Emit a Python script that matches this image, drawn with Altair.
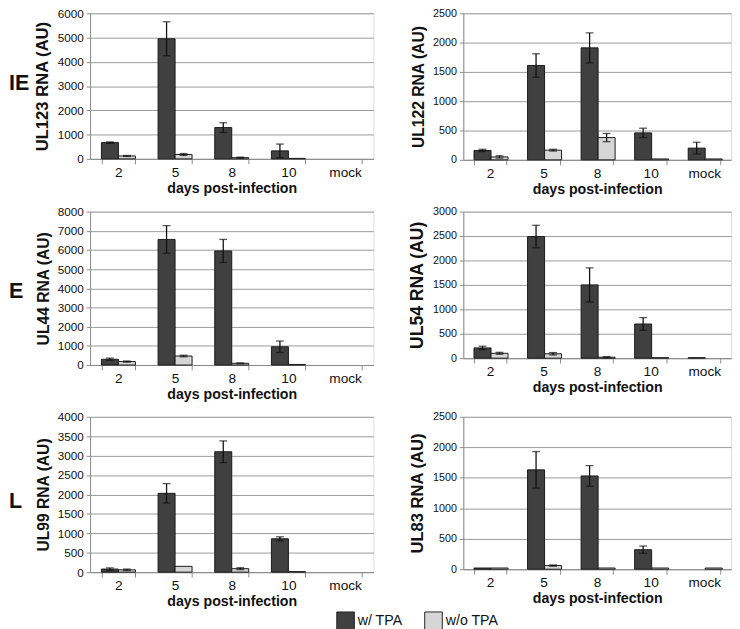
import altair as alt
import pandas as pd

days = ["2", "5", "8", "10", "mock"]
series = ["w/ TPA", "w/o TPA"]

# IE
ul123_w = [670, 4950, 1290, 330, 0]
ul123_w_err = [30, 700, 200, 280, 0]
ul123_wo = [120, 180, 50, 20, 0]
ul123_wo_err = [20, 40, 20, 0, 0]

ul122_w = [160, 1610, 1910, 460, 200]
ul122_w_err = [20, 200, 255, 80, 100]
ul122_wo = [50, 165, 380, 15, 15]
ul122_wo_err = [20, 15, 70, 0, 0]

# E
ul44_w = [300, 6550, 5950, 950, 0]
ul44_w_err = [60, 720, 600, 300, 0]
ul44_wo = [180, 470, 90, 30, 0]
ul44_wo_err = [30, 40, 20, 0, 0]

ul54_w = [210, 2490, 1500, 700, 10]
ul54_w_err = [35, 230, 350, 130, 0]
ul54_wo = [100, 90, 20, 10, 0]
ul54_wo_err = [20, 25, 10, 0, 0]

# L
ul99_w = [80, 2030, 3100, 860, 0]
ul99_w_err = [30, 250, 280, 50, 0]
ul99_wo = [60, 150, 90, 15, 0]
ul99_wo_err = [20, 0, 25, 0, 0]

ul83_w = [20, 1630, 1530, 320, 0]
ul83_w_err = [0, 300, 170, 60, 0]
ul83_wo = [20, 60, 20, 20, 20]
ul83_wo_err = [0, 10, 0, 0, 0]

DARK = "#404040"
LIGHT = "#d6d6d6"
FONT = "Liberation Sans"


def panel(title, w, we, wo, woe, ymax, ystep, width, height, tfs, lfs,
          row_label=None, row_y=0):
    rows = []
    for i, d in enumerate(days):
        rows.append(dict(day=d, series=series[0], value=w[i], err=we[i]))
        rows.append(dict(day=d, series=series[1], value=wo[i], err=woe[i]))
    df = pd.DataFrame(rows)
    df["lo"] = df["value"] - df["err"]
    df["hi"] = df["value"] + df["err"]

    xenc = alt.X("day:N", sort=days,
                 scale=alt.Scale(domain=days, paddingInner=0.4, paddingOuter=0.2),
                 axis=alt.Axis(title="days post-infection", labelAngle=0,
                               tickBand="extent", domainColor="#8a8a8a",
                               tickColor="#8a8a8a", tickSize=5,
                               labelFontSize=14, labelPadding=2,
                               labelColor="#111", titleColor="#111",
                               titleFontSize=14.5, titleFontWeight="bold",
                               titlePadding=2, grid=False))
    xo = alt.XOffset("series:N", sort=series,
                     scale=alt.Scale(domain=series, paddingInner=0, paddingOuter=0))
    yscale = alt.Scale(domain=[0, ymax], nice=False)
    yaxis = alt.Axis(title=title, values=list(range(0, ymax + 1, ystep)),
                     format="d", labelOverlap=False,
                     grid=True, gridColor="#9a9a9a", gridWidth=1,
                     domainColor="#8a8a8a", tickColor="#8a8a8a",
                     tickSize=4, labelFontSize=lfs, labelColor="#111",
                     labelPadding=3, titleFontSize=tfs,
                     titleFontWeight="bold", titleColor="#111",
                     titlePadding=6)
    base = alt.Chart(df).encode(x=xenc, xOffset=xo)

    bars = base.transform_filter("datum.value > 0").mark_bar(
        stroke="#1a1a1a", strokeWidth=1).encode(
        y=alt.Y("value:Q", scale=yscale, axis=yaxis),
        color=alt.Color("series:N",
                        scale=alt.Scale(domain=series, range=[DARK, LIGHT]),
                        legend=alt.Legend(title=None, orient="none",
                                          legendX=252, legendY=612,
                                          direction="horizontal",
                                          symbolType="square", symbolSize=324,
                                          symbolStrokeColor="#222",
                                          symbolStrokeWidth=1,
                                          symbolOpacity=1,
                                          labelFontSize=14.5, labelColor="#111",
                                          labelOffset=3, columnPadding=20)),
    )
    eb = base.transform_filter("datum.err > 0")
    rule = eb.mark_rule(color="#111", strokeWidth=1.3).encode(
        y=alt.Y("lo:Q", scale=yscale, axis=yaxis), y2="hi:Q")
    cap_hi = eb.mark_tick(color="#111", size=8, thickness=1.3).encode(
        y=alt.Y("hi:Q", scale=yscale, axis=yaxis))
    cap_lo = eb.mark_tick(color="#111", size=8, thickness=1.3).encode(
        y=alt.Y("lo:Q", scale=yscale, axis=yaxis))
    layers = [bars, rule, cap_hi, cap_lo]
    if row_label:
        lab = alt.Chart(pd.DataFrame({"label": [row_label]})).mark_text(
            align="left", baseline="middle", fontSize=22, fontWeight="bold",
            color="#111").encode(text="label:N", x=alt.value(-83),
                                 y=alt.value(row_y))
        layers.append(lab)
    return alt.layer(*layers).properties(width=width, height=height)


p1 = panel("UL123 RNA (AU)", ul123_w, ul123_w_err, ul123_wo, ul123_wo_err,
           6000, 1000, 290, 149, 17, 12, "IE", 72)
p2 = panel("UL122 RNA (AU)", ul122_w, ul122_w_err, ul122_wo, ul122_wo_err,
           2500, 500, 274, 150, 16, 11)
p3 = panel("UL44 RNA (AU)", ul44_w, ul44_w_err, ul44_wo, ul44_wo_err,
           8000, 1000, 290, 157, 16, 12, "E", 81)
p4 = panel("UL54 RNA (AU)", ul54_w, ul54_w_err, ul54_wo, ul54_wo_err,
           3000, 500, 274, 150, 18, 11)
p5 = panel("UL99 RNA (AU)", ul99_w, ul99_w_err, ul99_wo, ul99_wo_err,
           4000, 500, 290, 159, 16, 12, "L", 86)
p6 = panel("UL83 RNA (AU)", ul83_w, ul83_w_err, ul83_wo, ul83_wo_err,
           2500, 500, 274, 156, 17, 11)

chart = alt.concat(p1, p2, p3, p4, p5, p6, columns=2,
                   spacing={"row": 53, "column": 92},
                   bounds="flush").resolve_scale(
    color="shared").properties(
    padding={"left": 0, "top": -9, "right": 0, "bottom": 0}
).configure_view(stroke=None).configure(font=FONT, background="white")

chart.save("out.html", embed_options={"renderer": "svg", "actions": False})
